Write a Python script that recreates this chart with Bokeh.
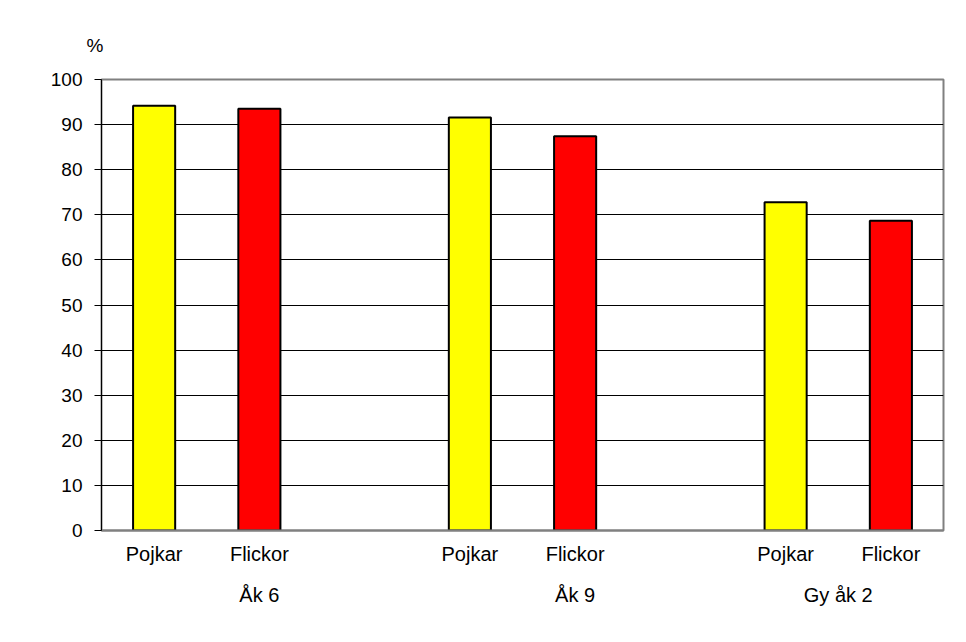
from bokeh.plotting import figure
from bokeh.models import FactorRange, ColumnDataSource, FixedTicker, Range1d, Title
from bokeh.embed import file_html
from bokeh.resources import INLINE

# ---- data ----
groups = ["Åk 6", "Åk 9", "Gy åk 2"]
sexes = ["Pojkar", "Flickor"]
pojkar = [94.2, 91.6, 72.8]
flickor = [93.5, 87.4, 68.7]
sex_colors = ["#FFFF00", "#FF0000"]
y_ticks = [0, 10, 20, 30, 40, 50, 60, 70, 80, 90, 100]
unit_label = "%"

FONT = "Liberation Sans"
W, H = 950, 626
BL, BR, BT, BB = 101, 7, 79, 96
GAP = " "  # blank middle level, only adds a little space between label rows

# category slots: two bars per group plus an empty spacer slot between groups
factors = []
for i, g in enumerate(groups):
    for s in sexes:
        factors.append((g, GAP, s))
    if i < len(groups) - 1:
        factors.append((g, GAP, " " * (i + 1)))

xs, tops, cols = [], [], []
for i, g in enumerate(groups):
    for s, vals, c in zip(sexes, [pojkar, flickor], sex_colors):
        xs.append((g, GAP, s))
        tops.append(vals[i])
        cols.append(c)
src = ColumnDataSource(dict(x=xs, top=tops, color=cols))

p = figure(
    x_range=FactorRange(*factors, factor_padding=0, group_padding=0,
                        subgroup_padding=0, range_padding=0),
    y_range=Range1d(y_ticks[0], y_ticks[-1]),
    width=W, height=H,
    min_border_left=BL, min_border_right=BR,
    min_border_top=BT, min_border_bottom=BB,
    output_backend="svg", toolbar_location=None,
    title=Title(text=unit_label, align="left", offset=-15, standoff=47,
                text_font=FONT, text_font_size="19px", text_font_style="normal",
                text_color="black"),
)
p.background_fill_color = "white"
p.border_fill_color = "white"
p.outline_line_color = "#808080"
p.outline_line_width = 2

p.vbar(x="x", top="top", width=0.4, source=src,
       fill_color="color", line_color="black", line_width=2)

# y axis
yax = p.yaxis[0]
yax.ticker = FixedTicker(ticks=y_ticks)
yax.axis_line_color = "black"
yax.axis_line_width = 1
yax.major_tick_line_color = "black"
yax.major_tick_in = 0
yax.major_tick_out = 7
yax.minor_tick_line_color = None
yax.major_label_standoff = 12
yax.major_label_text_font = FONT
yax.major_label_text_font_size = "19px"
yax.major_label_text_color = "black"

# grid
p.xgrid.visible = False
p.ygrid.ticker = FixedTicker(ticks=y_ticks[1:-1])
p.ygrid.grid_line_color = "black"
p.ygrid.grid_line_width = 1

# x axis (sex, then school year)
xax = p.xaxis[0]
xax.axis_line_color = "#808080"
xax.axis_line_width = 2
xax.major_tick_line_color = None
xax.minor_tick_line_color = None
xax.major_label_standoff = 6
xax.major_label_text_font = FONT
xax.major_label_text_font_size = "20px"
xax.major_label_text_color = "black"
xax.major_label_orientation = "horizontal"
xax.subgroup_text_font = FONT
xax.subgroup_text_font_size = "1px"
xax.subgroup_text_color = "black"
xax.subgroup_label_orientation = "horizontal"
xax.group_text_font = FONT
xax.group_text_font_size = "20px"
xax.group_text_font_style = "normal"
xax.group_text_color = "black"
xax.group_label_orientation = "horizontal"
xax.separator_line_color = None

open("out.html", "w").write(file_html(p, INLINE))
